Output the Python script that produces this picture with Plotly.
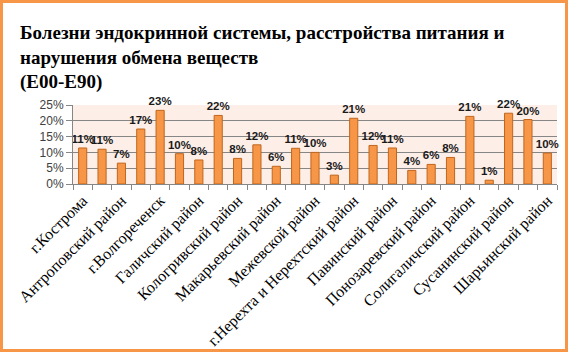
import plotly.graph_objects as go

categories = [
    "г.Кострома", "Костромской район", "Антроповский район", "Буйский район",
    "г.Волгореченск", "Вохомский район", "Галичский район", "Кадыйский район",
    "Кологривский район", "Красносельский район", "Макарьевский район", "Мантуровский район",
    "Межевской район", "Нейский район", "г.Нерехта и Нерехтский район", "Октябрьский район",
    "Павинский район", "Парфеньевский район", "Понозаревский район", "Пыщугский район",
    "Солигаличский район", "Судиславский район", "Сусанинский район", "Чухломский район",
    "Шарьинский район",
]
values = [
    0.114, 0.110, 0.066, 0.174, 0.233, 0.096, 0.076, 0.217, 0.081, 0.124,
    0.056, 0.113, 0.100, 0.028, 0.208, 0.122, 0.114, 0.043, 0.062, 0.084,
    0.214, 0.012, 0.224, 0.204, 0.098,
]
tick_labels = [c if i % 2 == 0 else "" for i, c in enumerate(categories)]
y_ticks = [0, 0.05, 0.10, 0.15, 0.20, 0.25]
title_text = "Болезни эндокринной системы, расстройства питания и<br>нарушения обмена веществ<br>(E00-E90)"

W, H = 568, 352
ML, MR, MT, MB = 73, 11, 105, 168
PW, PH = W - ML - MR, H - MT - MB

fig = go.Figure()
fig.add_trace(go.Bar(
    x=categories, y=values,
    marker=dict(color="#F79646", line=dict(color="#C0661E", width=1)),
    texttemplate="%{y:.0%}", textposition="outside", cliponaxis=False,
    constraintext="none",
    textfont=dict(family="Liberation Sans", size=11.5, color="#1a1a1a", weight="bold"),
    hoverinfo="x+y",
))

bw = 1.5
fig.add_shape(type="rect", xref="paper", yref="paper",
              x0=(-ML + bw) / PW, x1=1 + (MR - bw) / PW,
              y0=(-MB + bw) / PH, y1=1 + (MT - bw) / PH,
              line=dict(color="#F79646", width=3), layer="above")

fig.add_annotation(
    text=title_text,
    font=dict(family="Liberation Serif, Times New Roman, serif", size=19, color="#000000", weight="bold"),
    xref="paper", yref="paper",
    x=(18 - ML) / PW, xanchor="left",
    y=1 + (MT - 20) / PH, yanchor="top",
    align="left", showarrow=False,
)

fig.update_layout(
    width=W, height=H,
    margin=dict(l=ML, r=MR, t=MT, b=MB, pad=0, autoexpand=False),
    paper_bgcolor="white", plot_bgcolor="#FDEEE7",
    bargap=0.58, showlegend=False,
    xaxis=dict(
        tickmode="array", tickvals=categories, ticktext=tick_labels,
        tickangle=-45, tickson="boundaries", ticks="outside", ticklen=5,
        tickcolor="#868686", showline=True, linecolor="#868686",
        tickfont=dict(family="Liberation Serif, Times New Roman, serif", size=16, color="#000000"),
        showgrid=False, automargin=False,
    ),
    yaxis=dict(
        range=[0, 0.25], tickvals=y_ticks, tickformat=".0%",
        ticks="outside", ticklen=6, tickcolor="#868686",
        showline=True, linecolor="#868686",
        gridcolor="#868686", gridwidth=1,
        tickfont=dict(family="Liberation Sans", size=12, color="#404040"),
        zeroline=False, automargin=False,
    ),
)

fig.write_html("out.html")
